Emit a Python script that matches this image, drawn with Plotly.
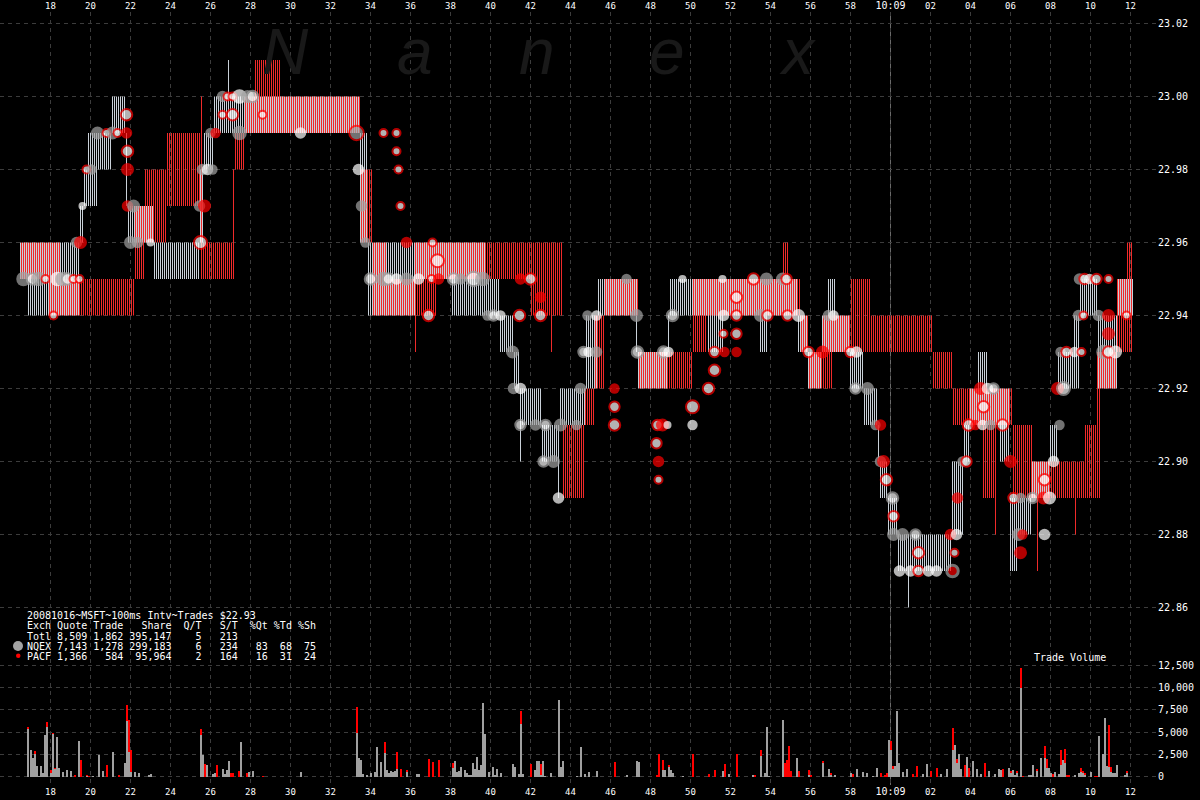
import numpy as np
import plotly.graph_objects as go

# ---------------- DATA (seconds after 10:08:00) ----------------
# NQEX quote steps: start, end, bid, ask
nq_start = [16.5, 16.85, 19.5, 19.65, 19.9, 20.4, 21.1, 21.75, 21.9, 23.15, 25.5, 25.65, 26.15, 26.9, 27.0,
            33.5, 33.85, 36.25, 38.1, 39.75, 40.5, 41.15, 41.5, 41.6, 42.6, 43.4, 43.5, 44.75, 45.35, 47.3,
            47.4, 48.9, 49.0, 50.85, 51.65, 53.5, 53.9, 55.35, 55.9, 56.6, 56.9, 57.25, 58.0, 58.65, 59.35,
            59.5, 59.9, 60.35, 60.9, 63.1, 63.65, 64.0, 64.4, 64.85, 65.5, 66.0, 66.35, 67.1, 68.0, 68.4,
            69.15, 69.5, 70.4, 71.35]
nq_end = [16.85, 19.5, 19.65, 19.9, 20.4, 21.1, 21.75, 21.9, 23.15, 25.5, 25.65, 26.15, 26.9, 27.0, 33.5,
          33.85, 36.25, 38.1, 39.75, 40.5, 41.15, 41.5, 41.6, 42.6, 43.4, 43.5, 44.75, 45.35, 47.35, 47.4,
          48.9, 49.0, 50.85, 51.65, 53.5, 53.9, 55.35, 55.9, 56.6, 56.9, 57.25, 58.0, 58.65, 59.35, 59.5,
          59.9, 60.35, 63.1, 60.95, 63.65, 64.0, 64.4, 64.85, 65.5, 66.0, 66.35, 67.1, 68.0, 68.4, 69.15,
          69.5, 70.4, 71.35, 72.15]
nq_bid = [22.95, 22.94, 22.96, 22.97, 22.97, 22.98, 22.99, 22.97, 22.96, 22.95, 22.96, 22.98, 22.99, 22.99, 22.99,
          22.96, 22.94, 22.95, 22.94, 22.94, 22.93, 22.92, 22.90, 22.91, 22.90, 22.89, 22.91, 22.92, 22.94, 22.93,
          22.92, 22.93, 22.94, 22.93, 22.94, 22.93, 22.94, 22.93, 22.92, 22.93, 22.93, 22.93, 22.92, 22.91, 22.90,
          22.89, 22.88, 22.87, 22.86, 22.88, 22.90, 22.91, 22.91, 22.91, 22.90, 22.87, 22.88, 22.89, 22.90, 22.92,
          22.92, 22.94, 22.92, 22.94]
nq_ask = [22.96, 22.96, 22.97, 22.98, 22.99, 22.99, 23.00, 22.99, 22.97, 22.96, 22.98, 22.99, 23.00, 23.01, 23.00,
          22.99, 22.96, 22.96, 22.96, 22.95, 22.94, 22.93, 22.92, 22.92, 22.91, 22.91, 22.92, 22.94, 22.95, 22.94,
          22.93, 22.94, 22.95, 22.95, 22.95, 22.95, 22.95, 22.94, 22.93, 22.94, 22.95, 22.94, 22.93, 22.92, 22.91,
          22.90, 22.89, 22.88, 22.88, 22.90, 22.91, 22.92, 22.93, 22.92, 22.92, 22.89, 22.89, 22.90, 22.91, 22.93,
          22.94, 22.95, 22.94, 22.95]

# PACF quote steps: start, end, bid, ask
pa_start = [16.5, 17.9, 18.5, 22.25, 22.75, 23.85, 25.5, 25.6, 27.15, 27.2, 27.75, 28.25, 29.5, 33.5, 34.1,
            34.85, 36.25, 36.3, 37.35, 42.0, 43.05, 43.65, 44.75, 45.25, 45.75, 47.4, 50.1, 50.85, 54.6, 54.9,
            55.5, 55.9, 56.6, 57.15, 58.0, 59.0, 62.1, 63.1, 64.65, 65.25, 65.25, 66.15, 67.1, 67.35, 69.25,
            69.75, 70.35, 70.5, 71.35, 71.85]
pa_end = [17.9, 18.5, 22.25, 22.75, 23.85, 25.5, 25.6, 27.15, 27.2, 27.75, 28.25, 29.5, 33.5, 34.1, 34.85,
          36.25, 36.3, 37.35, 42.0, 43.65, 43.1, 44.75, 45.25, 45.75, 47.4, 50.1, 50.85, 54.6, 54.9, 55.5,
          55.9, 56.6, 57.15, 58.0, 59.0, 62.1, 63.1, 64.65, 65.25, 66.15, 65.3, 67.1, 69.75, 67.4, 69.3,
          70.35, 70.5, 71.35, 71.85, 72.15]
pa_bid = [22.95, 22.94, 22.94, 22.95, 22.96, 22.97, 22.95, 22.95, 22.95, 22.98, 22.99, 22.99, 22.99, 22.96, 22.94,
          22.94, 22.93, 22.94, 22.95, 22.94, 22.93, 22.89, 22.91, 22.92, 22.94, 22.92, 22.93, 22.94, 22.94, 22.94,
          22.93, 22.92, 22.92, 22.93, 22.93, 22.93, 22.92, 22.91, 22.89, 22.91, 22.88, 22.89, 22.89, 22.87, 22.88,
          22.89, 22.89, 22.92, 22.93, 22.93]
pa_ask = [22.96, 22.96, 22.95, 22.97, 22.98, 22.99, 23.00, 22.96, 22.98, 22.99, 23.00, 23.01, 23.00, 22.98, 22.96,
          22.95, 22.96, 22.96, 22.96, 22.96, 22.96, 22.91, 22.92, 22.94, 22.95, 22.93, 22.95, 22.95, 22.96, 22.95,
          22.94, 22.93, 22.94, 22.94, 22.95, 22.94, 22.93, 22.92, 22.92, 22.92, 22.91, 22.91, 22.90, 22.89, 22.89,
          22.91, 22.93, 22.93, 22.95, 22.96]

# Trades: time, price, kind, shares
trade_t = [16.65, 17.1, 17.4, 17.75, 18.15, 18.35, 18.6, 18.85, 19.15, 19.3, 19.45, 19.5, 19.6, 19.8, 20.05,
           20.35, 20.8, 21.1, 21.35, 21.8, 21.8, 21.85, 21.85, 21.85, 22.0, 22.15, 22.35, 23.0, 25.45, 25.5,
           25.6, 25.7, 25.85, 26.0, 26.1, 26.25, 26.6, 26.6, 26.85, 27.1, 27.1, 27.45, 27.45, 27.85, 28.1,
           28.6, 30.5, 33.3, 33.4, 33.55, 33.75, 34.0, 34.65, 34.65, 34.9, 35.3, 35.3, 35.3, 35.4, 35.5,
           35.8, 35.8, 36.4, 36.9, 37.05, 37.1, 37.35, 37.4, 38.15, 38.5, 39.15, 39.6, 39.85, 40.15, 40.5,
           41.1, 41.15, 41.45, 41.5, 41.5, 41.5, 42.0, 42.25, 42.5, 42.5, 42.65, 42.75, 43.15, 43.4, 43.5,
           44.3, 44.5, 44.65, 44.85, 44.9, 45.3, 45.3, 46.2, 46.2, 46.2, 46.8, 47.3, 47.35, 48.3, 48.35,
           48.4, 48.4, 48.6, 48.65, 48.85, 48.9, 49.1, 49.6, 50.1, 50.1, 50.9, 51.2, 51.2, 51.6, 51.65,
           51.65, 51.7, 52.3, 52.3, 52.3, 52.3, 53.15, 53.5, 53.8, 53.85, 54.6, 54.8, 54.85, 55.4, 55.9,
           56.6, 56.9, 57.15, 58.0, 58.25, 58.3, 58.85, 59.25, 59.5, 59.5, 59.65, 59.8, 60.1, 60.15, 60.15,
           60.45, 60.6, 61.0, 61.25, 61.4, 61.4, 61.9, 62.3, 63.0, 63.1, 63.2, 63.3, 63.35, 63.6, 63.8,
           63.9, 64.25, 64.5, 64.6, 64.65, 64.85, 65.0, 65.15, 65.6, 66.0, 66.15, 66.4, 66.5, 66.5, 66.6,
           67.1, 67.65, 67.7, 67.7, 67.95, 68.15, 68.35, 68.45, 68.5, 68.65, 68.8, 69.2, 69.4, 69.45, 69.55,
           69.65, 69.7, 69.95, 70.3, 70.4, 70.65, 70.9, 70.9, 70.9, 70.9, 71.25, 71.8]
trade_p = [22.95, 22.95, 22.95, 22.95, 22.94, 22.95, 22.95, 22.95, 22.95, 22.96, 22.95, 22.96, 22.97, 22.98, 22.98,
           22.99, 22.99, 22.99, 22.99, 22.995, 22.99, 22.985, 22.98, 22.97, 22.96, 22.97, 22.96, 22.96, 22.97, 22.96,
           22.98, 22.97, 22.98, 22.99, 22.98, 22.99, 22.995, 23.00, 23.00, 22.995, 23.00, 22.99, 23.00, 23.00, 23.00,
           22.995, 22.99, 22.99, 22.98, 22.97, 22.96, 22.95, 22.99, 22.95, 22.95, 22.99, 22.985, 22.95, 22.98, 22.97,
           22.96, 22.95, 22.95, 22.94, 22.95, 22.96, 22.955, 22.95, 22.95, 22.95, 22.95, 22.95, 22.94, 22.94, 22.94,
           22.93, 22.92, 22.94, 22.95, 22.92, 22.91, 22.95, 22.91, 22.945, 22.94, 22.90, 22.91, 22.90, 22.89, 22.91,
           22.91, 22.92, 22.93, 22.94, 22.93, 22.93, 22.94, 22.92, 22.915, 22.91, 22.95, 22.94, 22.93, 22.905, 22.91,
           22.90, 22.895, 22.91, 22.93, 22.91, 22.93, 22.94, 22.95, 22.915, 22.91, 22.92, 22.925, 22.93, 22.95, 22.94,
           22.935, 22.93, 22.945, 22.94, 22.935, 22.93, 22.95, 22.94, 22.95, 22.94, 22.95, 22.95, 22.94, 22.94, 22.93,
           22.93, 22.94, 22.94, 22.93, 22.92, 22.93, 22.92, 22.91, 22.91, 22.90, 22.90, 22.895, 22.89, 22.885, 22.88,
           22.87, 22.88, 22.87, 22.88, 22.875, 22.87, 22.87, 22.87, 22.88, 22.87, 22.875, 22.88, 22.89, 22.90, 22.90,
           22.91, 22.91, 22.92, 22.91, 22.915, 22.92, 22.91, 22.92, 22.91, 22.90, 22.89, 22.88, 22.89, 22.875, 22.88,
           22.89, 22.89, 22.895, 22.88, 22.89, 22.90, 22.92, 22.91, 22.93, 22.92, 22.93, 22.93, 22.94, 22.95, 22.93,
           22.94, 22.95, 22.95, 22.95, 22.94, 22.93, 22.95, 22.94, 22.935, 22.93, 22.93, 22.94]
trade_kind = ["N", "NW", "N", "PW", "PW", "W", "N", "NW", "PW", "N", "PW", "P", "W", "PW", "N",
              "N", "PW", "N", "PW", "PW", "P", "PW", "P", "P", "N", "N", "N", "W", "N", "PW",
              "N", "P", "W", "N", "N", "P", "PW", "N", "PW", "PW", "PW", "N", "W", "N", "NW",
              "PW", "W", "NR", "W", "N", "N", "NW", "PW", "N", "NW", "PW", "PW", "W", "PW", "PW",
              "P", "N", "W", "PW", "PW", "PW", "PW", "P", "NW", "N", "NW", "N", "N", "NW", "W",
              "N", "N", "PW", "P", "W", "NW", "PW", "N", "P", "PW", "NW", "NW", "N", "W", "N",
              "N", "N", "NW", "N", "W", "N", "W", "P", "PW", "PW", "N", "N", "NW", "PW", "PW",
              "P", "PW", "P", "NW", "W", "W", "NW", "W", "PW", "W", "PW", "PW", "PW", "W", "W",
              "PW", "P", "PW", "PW", "PW", "P", "PW", "N", "N", "PW", "N", "PW", "PW", "W", "PW",
              "P", "N", "W", "PW", "NW", "W", "N", "N", "P", "N", "P", "PW", "NW", "PW", "N",
              "W", "N", "W", "NW", "PW", "PW", "W", "W", "P", "PN", "PW", "W", "P", "N", "PW",
              "PW", "P", "P", "W", "PW", "W", "N", "NW", "PW", "P", "PW", "N", "N", "P", "P",
              "NW", "P", "PW", "W", "W", "W", "P", "N", "N", "NW", "PW", "W", "N", "N", "PW",
              "PW", "PW", "W", "PW", "N", "N", "PW", "P", "P", "PW", "W", "PW"]
trade_shares = [2000, 500, 2000, 100, 100, 2000, 2000, 500, 100, 500, 100, 1000, 100, 100, 300,
                1000, 100, 1000, 100, 500, 500, 500, 1000, 500, 1000, 1000, 500, 100, 500, 1000,
                500, 1000, 500, 300, 300, 300, 100, 500, 100, 500, 100, 2000, 2000, 1000, 500,
                100, 500, 2000, 500, 500, 300, 500, 100, 2000, 500, 100, 100, 500, 100, 100,
                500, 1000, 500, 500, 100, 100, 1000, 500, 500, 500, 2000, 2000, 300, 300, 300,
                1000, 500, 500, 500, 500, 300, 500, 500, 500, 500, 300, 300, 1000, 500, 1000,
                300, 500, 300, 300, 300, 500, 300, 300, 300, 500, 300, 1000, 500, 300, 300,
                500, 100, 1000, 500, 100, 300, 500, 100, 1000, 300, 500, 500, 300, 100, 500,
                100, 300, 500, 300, 300, 300, 500, 1000, 1000, 300, 1000, 300, 300, 1000, 300,
                1000, 500, 300, 300, 300, 500, 1000, 300, 500, 500, 1000, 500, 500, 300, 1000,
                500, 1000, 500, 300, 500, 300, 500, 500, 500, 500, 100, 500, 500, 300, 300,
                500, 300, 1000, 300, 500, 500, 300, 300, 500, 1000, 300, 1000, 300, 1000, 300,
                300, 1000, 500, 500, 1000, 500, 1000, 300, 300, 1000, 300, 300, 500, 500, 100,
                100, 300, 300, 300, 500, 2000, 100, 1000, 1000, 500, 1000, 100]

# Trade volume per 100 ms interval
vol_t = [16.85, 17.0, 17.1, 17.2, 17.3, 17.4, 17.5, 17.6, 17.7, 17.8, 18.0, 18.1, 18.2, 18.3, 18.4, 18.6, 18.8,
         19.0, 19.2, 19.4, 19.5, 19.8, 19.9, 20.1, 20.4, 20.6, 20.8, 21.1, 21.4, 21.7, 21.8, 21.9, 22.0, 22.2,
         22.4, 22.9, 23.0, 25.5, 25.6, 25.7, 25.8, 26.1, 26.2, 26.3, 26.6, 26.7, 26.8, 26.9, 27.0, 27.1, 27.4,
         27.5, 27.8, 27.9, 28.1, 28.6, 30.5, 33.3, 33.4, 33.5, 33.6, 33.8, 34.0, 34.2, 34.3, 34.5, 34.7, 34.8,
         34.9, 35.0, 35.1, 35.2, 35.3, 35.5, 35.8, 36.3, 36.4, 36.9, 37.1, 37.4, 38.1, 38.2, 38.3, 38.4, 38.5,
         38.7, 38.8, 38.9, 39.0, 39.1, 39.2, 39.3, 39.4, 39.5, 39.6, 39.7, 39.9, 40.1, 40.2, 40.3, 40.5, 41.1,
         41.2, 41.4, 41.5, 41.6, 42.0, 42.2, 42.3, 42.4, 42.5, 42.6, 42.7, 43.0, 43.4, 43.5, 43.6, 44.3, 44.5,
         44.7, 44.9, 45.3, 46.2, 46.8, 47.3, 47.4, 48.3, 48.4, 48.6, 48.7, 48.9, 49.0, 49.1, 49.6, 50.1, 50.9,
         51.2, 51.6, 51.7, 51.9, 52.3, 53.1, 53.2, 53.5, 53.7, 53.8, 53.9, 54.6, 54.7, 54.8, 54.9, 55.0, 55.3,
         55.4, 55.9, 56.0, 56.6, 56.9, 57.0, 57.2, 58.0, 58.1, 58.3, 58.6, 58.8, 59.1, 59.3, 59.5, 59.7, 59.8,
         59.9, 60.0, 60.1, 60.2, 60.3, 60.4, 60.6, 60.8, 61.1, 61.3, 61.6, 61.8, 62.0, 62.3, 62.5, 62.8, 63.1,
         63.2, 63.3, 63.4, 63.5, 63.7, 63.8, 63.9, 64.1, 64.3, 64.5, 64.7, 64.9, 65.2, 65.4, 65.5, 65.6, 65.9,
         66.0, 66.1, 66.2, 66.3, 66.5, 66.6, 66.9, 67.0, 67.1, 67.3, 67.5, 67.7, 67.8, 67.9, 68.0, 68.1, 68.2,
         68.4, 68.5, 68.6, 68.7, 68.8, 68.9, 69.2, 69.4, 69.5, 69.6, 69.7, 70.0, 70.2, 70.3, 70.4, 70.6, 70.7,
         70.8, 70.9, 71.0, 71.1, 71.2, 71.3, 71.7, 71.8]
vol_nq = [5370, 3000, 2100, 2550, 1130, 100, 1160, 400, 4620, 5630, 430, 4800, 860, 4500, 975, 525, 750,
          675, 0, 3980, 0, 80, 0, 80, 2440, 640, 0, 2780, 0, 1540, 6300, 2740, 490, 525,
          410, 150, 300, 4690, 2440, 0, 1310, 300, 410, 0, 860, 300, 750, 1760, 0, 0, 0,
          3900, 0, 525, 640, 0, 525, 4920, 2100, 1880, 300, 190, 410, 525, 3340, 1650, 2670, 750,
          410, 640, 525, 640, 860, 0, 525, 300, 300, 0, 0, 0, 975, 1760, 530, 640, 1090,
          750, 410, 190, 190, 1540, 860, 2210, 750, 1310, 8300, 4800, 525, 1090, 190, 860, 410, 1430,
          1090, 300, 5930, 300, 0, 750, 1760, 1760, 190, 1760, 80, 410, 8630, 1090, 1760, 80, 3340,
          300, 525, 640, 0, 190, 1760, 1650, 0, 0, 750, 750, 1090, 750, 410, 80, 0, 0,
          0, 640, 0, 300, 0, 190, 0, 2330, 410, 5590, 80, 6380, 0, 0, 0, 0, 2100,
          0, 190, 0, 1540, 860, 190, 190, 410, 0, 860, 525, 410, 80, 975, 0, 0, 0,
          4130, 3000, 860, 1200, 7400, 1540, 525, 860, 0, 0, 300, 1430, 0, 0, 300, 860, 3000,
          3500, 1500, 2500, 860, 0, 2200, 0, 1800, 860, 300, 0, 640, 300, 860, 680, 0, 1010,
          375, 750, 225, 375, 9930, 0, 150, 225, 1350, 600, 2140, 2070, 1010, 1010, 375, 0, 490,
          300, 1320, 1880, 1500, 0, 0, 225, 375, 560, 410, 225, 560, 0, 0, 4510, 2560, 6620,
          1200, 1100, 560, 450, 450, 1320, 190, 375]
vol_pa = [180, 0, 0, 340, 0, 0, 0, 0, 0, 530, 260, 150, 80, 0, 0, 0, 0,
          0, 225, 0, 1880, 50, 80, 0, 0, 0, 1310, 0, 190, 0, 1760, 3570, 2510, 0,
          0, 0, 0, 675, 0, 1430, 0, 0, 0, 1310, 0, 0, 0, 0, 410, 410, 640,
          0, 410, 0, 0, 80, 0, 2930, 0, 0, 0, 0, 0, 0, 0, 0, 1240, 0,
          0, 0, 0, 0, 1910, 860, 225, 0, 0, 1990, 1650, 1880, 560, 0, 0, 0, 0,
          0, 0, 0, 0, 0, 0, 0, 0, 0, 0, 0, 0, 0, 0, 0, 0, 0,
          0, 0, 1460, 0, 1430, 0, 0, 0, 1240, 0, 0, 0, 0, 0, 0, 0, 0,
          0, 0, 0, 1650, 0, 0, 0, 190, 2550, 1130, 0, 225, 0, 0, 0, 2550, 300,
          750, 0, 1430, 0, 2550, 0, 190, 675, 0, 0, 0, 0, 1540, 1880, 3450, 640, 0,
          640, 560, 190, 225, 0, 225, 0, 0, 300, 0, 0, 0, 0, 0, 410, 190, 410,
          0, 1010, 340, 0, 0, 0, 0, 0, 300, 1200, 0, 0, 640, 1010, 0, 0, 2500,
          0, 500, 0, 0, 1300, 0, 1000, 0, 0, 0, 1500, 0, 0, 0, 0, 830, 0,
          300, 0, 0, 190, 2260, 75, 0, 0, 0, 300, 0, 1320, 1010, 0, 0, 300, 0,
          0, 1620, 0, 1650, 150, 150, 0, 0, 450, 260, 150, 0, 40, 75, 0, 0, 0,
          0, 4700, 560, 0, 0, 0, 0, 190]

price_ticks = [22.86, 22.88, 22.90, 22.92, 22.94, 22.96, 22.98, 23.00, 23.02]
vol_ticks = [0, 2500, 5000, 7500, 10000, 12500]
time_ticks = list(range(18, 73, 2))
time_labels = [str(v) if v < 60 else ("10:09" if v == 60 else f"{v - 60:02d}") for v in time_ticks]
minute_mark = 60

legend_lines = [
    "20081016~MSFT~100ms Intv~Trades $22.93",
    "Exch Quote Trade   Share  Q/T   S/T  %Qt %Td %Sh",
    "Totl 8,509 1,862 395,147    5   213",
    "NQEX 7,143 1,278 299,183    6   234   83  68  75",
    "PACF 1,366   584  95,964    2   164   16  31  24",
]

# ---------------- STYLE / LAYOUT ----------------
W, H = 1200, 800
ML, MR, MT, MB = 0, 43, 12, 15
PW, PH = W - ML - MR, H - MT - MB
SPLIT_PX = 643  # pixel row where price panel meets volume panel
PX_PER_SEC = 20.0
PX_PER_PRICE = 3650.0
X0 = 15.475
x_range = [X0, X0 + PW / PX_PER_SEC]
p_top = 23.02 + 11.5 / PX_PER_PRICE
y_range = [p_top - (SPLIT_PX - MT) / PX_PER_PRICE, p_top]
vk = 12500 / 111.0
v_top = 12500 + (665.5 - SPLIT_PX) * vk
v_range = [-(H - MB - 776.5) * vk, v_top]
split = (H - MB - SPLIT_PX) / PH


def pxx(x):
    return (x - ML) / PW


def pxy(y):
    return (H - MB - y) / PH


NQ_COLOR = "#c9d1d9"
PA_COLOR = "#f02a2a"
GRID = "#3c3c3c"
MONO = "DejaVu Sans Mono"


def quote_lines(starts, ends, bids, asks, offset):
    xs, ys = [], []
    for t0, t1, b, a in zip(starts, ends, bids, asks):
        k0 = int(np.floor((t0 - offset) * 10)) - 1
        k1 = int(np.ceil((t1 - offset) * 10)) + 1
        for k in range(k0, k1 + 1):
            g = round(k / 10 + offset, 3)
            if t0 - 1e-6 <= g < t1 - 1e-6:
                xs += [g, g, None]
                ys += [b, a, None]
    return xs, ys


fig = go.Figure()

nx, ny = quote_lines(nq_start, nq_end, nq_bid, nq_ask, 0.0)
px_, py_ = quote_lines(pa_start, pa_end, pa_bid, pa_ask, 0.05)
fig.add_trace(go.Scatter(x=nx, y=ny, mode="lines", line=dict(color=NQ_COLOR, width=1),
                         xaxis="x", yaxis="y", hoverinfo="skip"))
fig.add_trace(go.Scatter(x=px_, y=py_, mode="lines", line=dict(color=PA_COLOR, width=1),
                         xaxis="x", yaxis="y", hoverinfo="skip"))

kind_style = {
    "N": ("#a3a3a3", "#a3a3a3", 0),
    "P": ("#ff0000", "#ff0000", 0),
    "W": ("#ffffff", "#ffffff", 0),
    "NW": ("#ffffff", "#a3a3a3", 2),
    "PW": ("#ffffff", "#ff0000", 2),
    "NR": ("#a3a3a3", "#ff0000", 2),
    "PN": ("#ff0000", "#a3a3a3", 3),
}
fills = [kind_style[k][0] for k in trade_kind]
lcols = [kind_style[k][1] for k in trade_kind]
lws = [kind_style[k][2] for k in trade_kind]
sizes = [8 + 5 * np.log10(s / 100.0) for s in trade_shares]
fig.add_trace(go.Scatter(x=trade_t, y=trade_p, mode="markers", xaxis="x", yaxis="y",
                         marker=dict(color=fills, size=sizes, line=dict(color=lcols, width=lws)),
                         hoverinfo="skip"))

fig.add_trace(go.Bar(x=vol_t, y=vol_nq, width=0.1, marker=dict(color="#a0a0a0", line=dict(width=0)),
                     xaxis="x", yaxis="y2", hoverinfo="skip"))
fig.add_trace(go.Bar(x=vol_t, y=vol_pa, width=0.1, marker=dict(color="#ff0000", line=dict(width=0)),
                     xaxis="x", yaxis="y2", hoverinfo="skip"))
# invisible trace to activate the top time axis
fig.add_trace(go.Scatter(x=[time_ticks[0]], y=[price_ticks[0]], mode="markers", marker=dict(opacity=0),
                         xaxis="x2", yaxis="y", hoverinfo="skip"))

tick_text = [f'<span style="font-size:10px">{t}</span>' if t == "10:09" else t for t in time_labels]
axis_common = dict(tickvals=time_ticks, ticktext=tick_text, range=x_range, showgrid=True,
                   gridcolor=GRID, griddash="4px,4px", gridwidth=1, zeroline=False, showline=False,
                   ticks="", tickfont=dict(family=MONO, size=9, color="#ffffff"))

fig.update_layout(
    width=W, height=H,
    margin=dict(l=ML, r=MR, t=MT, b=MB, pad=0),
    paper_bgcolor="#000000", plot_bgcolor="#000000",
    showlegend=False, hovermode=False, barmode="stack", bargap=0,
    xaxis=dict(domain=[0, 1], anchor="y2", side="bottom", automargin=False, **axis_common),
    xaxis2=dict(overlaying="x", anchor="y", side="top", matches="x", automargin=False,
                **{**axis_common, "showgrid": False}),
    yaxis=dict(domain=[split, 1], range=y_range, anchor="x", side="right", automargin=False,
               tickvals=price_ticks, ticktext=[f"{v:.2f}" for v in price_ticks],
               showgrid=True, gridcolor=GRID, griddash="4px,4px", zeroline=False, showline=False,
               ticks="", tickfont=dict(family=MONO, size=10, color="#ffffff")),
    yaxis2=dict(domain=[0, split], range=v_range, anchor="x", side="right", automargin=False,
                tickvals=vol_ticks, ticktext=[f"{v:,}" for v in vol_ticks],
                showgrid=True, gridcolor=GRID, griddash="4px,4px", zeroline=False, showline=False,
                ticks="", tickfont=dict(family=MONO, size=10, color="#ffffff")),
)

# minute marker line
fig.add_shape(type="line", xref="x", yref="paper", x0=minute_mark, x1=minute_mark, y0=0, y1=1,
              line=dict(color="#6a6a6a", width=1), layer="below")

# watermark
wm_letters = ["N", "a", "n", "e", "x"]
wm_x = [285, 415, 537, 667, 797]
for letter, cx in zip(wm_letters, wm_x):
    fig.add_annotation(text=letter, xref="paper", yref="paper", x=pxx(cx), y=pxy(52),
                       xanchor="center", yanchor="middle", showarrow=False,
                       font=dict(family="Liberation Sans", size=64, color="#191919", style="italic"))

# stats block
nb = "\u00a0"
line_y = [615, 625.5, 636, 646, 656]
for txt, yy in zip(legend_lines, line_y):
    fig.add_annotation(text=txt.replace(" ", nb), xref="paper", yref="paper", x=pxx(25), y=pxy(yy),
                       xanchor="left", yanchor="middle", showarrow=False,
                       font=dict(family=MONO, size=10, color="#ffffff"))
fig.add_shape(type="circle", xref="paper", yref="paper", x0=pxx(13), x1=pxx(23), y0=pxy(641), y1=pxy(651),
              fillcolor="#a3a3a3", line=dict(width=0))
fig.add_shape(type="circle", xref="paper", yref="paper", x0=pxx(16), x1=pxx(20.5), y0=pxy(653.5), y1=pxy(658),
              fillcolor="#ff0000", line=dict(width=0))
fig.add_annotation(text="Trade" + nb + "Volume", xref="paper", yref="paper", x=pxx(1032), y=pxy(657),
                   xanchor="left", yanchor="middle", showarrow=False,
                   font=dict(family=MONO, size=10, color="#ffffff"))

fig.write_html("out.html", config={"displayModeBar": False, "staticPlot": True},
               post_script="document.body.style.margin='0';document.body.style.overflow='hidden';")
